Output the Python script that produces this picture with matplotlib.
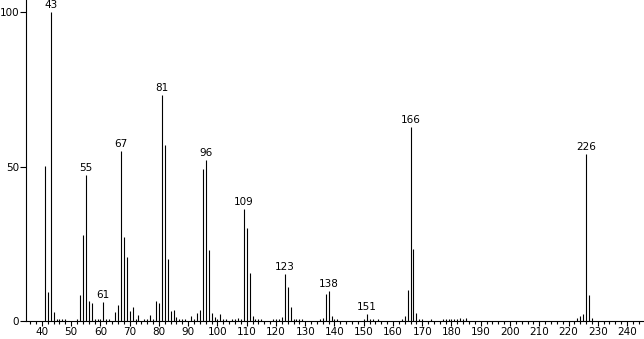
import matplotlib
matplotlib.use("Agg")
import matplotlib.pyplot as plt
from matplotlib.ticker import MultipleLocator

# mass spectrum: m/z and relative intensity (%)
mz = [41, 42, 43, 44, 45, 46, 47, 48, 52, 53, 54, 55, 56, 57, 58, 59, 60, 61, 62, 63,
      65, 66, 67, 68, 69, 70, 71, 72, 73, 75, 76, 77, 78, 79, 80, 81, 82, 83, 84, 85,
      86, 87, 88, 89, 91, 92, 93, 94, 95, 96, 97, 98, 99, 100, 101, 102, 103, 105, 106,
      107, 108, 109, 110, 111, 112, 113, 114, 115, 119, 120, 121, 122, 123, 124, 125,
      126, 127, 128, 129, 135, 136, 137, 138, 139, 140, 141, 150, 151, 152, 153, 155,
      163, 164, 165, 166, 167, 168, 169, 170, 173, 177, 178, 179, 180, 181, 182, 183,
      184, 185, 223, 224, 225, 226, 227, 228]
intensity = [50.3, 9.4, 100, 2.9, 0.7, 0.5, 0.8, 0.8, 0.8, 8.4, 27.8, 47.3, 6.5, 5.9, 0.8, 0.8, 0.6, 6.1, 0.6, 0.6,
             2.9, 5.3, 55, 27.2, 20.7, 3.2, 4.5, 0.8, 2.0, 0.6, 0.5, 1.9, 0.6, 6.5, 5.9, 73, 57, 20.2, 3.2, 3.6,
             1.2, 0.6, 0.7, 0.5, 1.6, 0.7, 2.6, 3.6, 49.2, 52, 23, 2.5, 1.2, 0.7, 2.2, 0.6, 0.5, 0.6, 0.7,
             0.9, 0.6, 36.1, 30, 15.5, 1.6, 0.8, 0.6, 0.6, 0.7, 0.8, 0.6, 1.3, 15.3, 11.1, 4.5,
             0.8, 0.6, 0.8, 0.5, 0.5, 1.0, 8.8, 9.7, 1.6, 0.7, 0.5, 0.7, 2.3, 0.6, 0.5, 0.5,
             0.7, 1.6, 10, 62.8, 23.3, 2.7, 0.6, 0.5, 0.5, 0.6, 0.5, 0.7, 0.6, 0.8, 0.6, 1.0,
             0.7, 1.0, 0.9, 1.6, 2.4, 54, 8.4, 0.9]

labeled = [43, 55, 61, 67, 81, 96, 109, 123, 138, 151, 166, 226]

fig = plt.figure(figsize=(6.44, 3.39), dpi=100)
ax = fig.add_axes([26 / 644, 18 / 339, 1 - 26 / 644, 1 - 18 / 339])

ax.vlines(mz, 0, intensity, color="black", linewidth=0.8)

lookup = dict(zip(mz, intensity))
for m in labeled:
    ax.annotate(str(m), (m, lookup[m]), xytext=(0, 1.5), textcoords="offset points",
                ha="center", va="bottom", fontsize=7.5, clip_on=False)

ax.set_xlim(34.56, 245.8)
ax.set_ylim(0, 103.9)

ax.spines["top"].set_visible(False)
ax.spines["right"].set_visible(False)
ax.spines["left"].set_linewidth(0.8)
ax.spines["bottom"].set_linewidth(0.8)

ax.set_xticks(range(40, 241, 10))
ax.xaxis.set_minor_locator(MultipleLocator(2))
ax.set_yticks([0, 50, 100])
ax.tick_params(axis="x", which="major", length=3.5, width=0.8, pad=1, labelsize=7.5)
ax.tick_params(axis="x", which="minor", length=2, width=0.8)
ax.tick_params(axis="y", which="major", length=4, width=0.8, pad=1, labelsize=7.5)

fig.savefig("out.png", dpi=100)
